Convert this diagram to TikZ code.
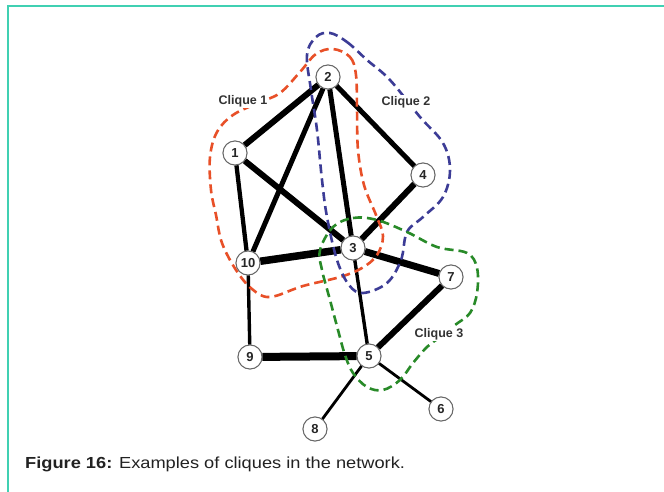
\documentclass[tikz,border=0pt]{standalone}
\usepackage{fontspec}
\setmainfont{Liberation Sans}
\usepackage{graphicx}
\definecolor{frameteal}{RGB}{64,208,178}
\definecolor{cred}{RGB}{232,80,40}
\definecolor{cblue}{RGB}{60,60,150}
\definecolor{cgreen}{RGB}{40,138,40}
\definecolor{txt}{RGB}{34,34,34}
\tikzset{
  vtx/.style={circle,draw=black!60,line width=0.9pt,fill=white,minimum size=24pt,inner sep=0pt,font=\fontsize{13}{14}\selectfont\bfseries,text=black!85},
  cliquelbl/.style={fill=white,inner sep=1pt,font=\fontsize{12.5}{14}\selectfont\bfseries,text=black!80},
  ehuge/.style={line width=7.5pt},
  ebig/.style={line width=6pt},
  emid/.style={line width=5pt},
  esmall/.style={line width=4.3pt},
  elight/.style={line width=3.4pt},
  ethin/.style={line width=2.8pt},
  hull/.style={line width=2.6pt,dash pattern=on 9pt off 5pt},
}
\begin{document}
\begin{tikzpicture}[x=1pt,y=-1pt]
\useasboundingbox (0,0) rectangle (664,492);
\fill[white] (0,0) rectangle (664,492);
\draw[frameteal,line width=2pt] (8,492) -- (8,6) -- (664,6);
% nodes
\node[vtx] (n2) at (328,77) {2};
\node[vtx] (n1) at (235,153) {1};
\node[vtx] (n4) at (423,175) {4};
\node[vtx] (n3) at (353,248) {3};
\node[vtx] (n10) at (248,263) {10};
\node[vtx] (n7) at (451,277) {7};
\node[vtx] (n9) at (250,357) {9};
\node[vtx] (n5) at (369,356) {5};
\node[vtx] (n6) at (441,409) {6};
\node[vtx] (n8) at (315,429) {8};
% edges
\draw[ebig] (n2) -- (n1);
\draw[emid] (n2) -- (n10);
\draw[emid] (n2) -- (n3);
\draw[emid] (n2) -- (n4);
\draw[esmall] (n1) -- (n10);
\draw[ebig] (n1) -- (n3);
\draw[ebig] (n4) -- (n3);
\draw[ehuge] (n10) -- (n3);
\draw[line width=7pt] (n3) -- (n7);
\draw[elight] (n3) -- (n5);
\draw[ebig] (n7) -- (n5);
\draw[elight] (n10) -- (n9);
\draw[line width=8pt] (n9) -- (n5);
\draw[ethin] (n5) -- (n8);
\draw[ethin] (n5) -- (n6);
% clique hulls
\draw[hull,cred] plot[smooth cycle,tension=0.6] coordinates {
 (333,49) (350,57) (356,75) (357,110) (358,150) (364,185) (376,215) (383,236)
 (377,255) (362,268) (340,277) (303,286) (270,297) (252,289) (236,270) (222,243)
 (216,215) (211,190) (210,157) (217,132) (233,115) (258,103) (280,93) (300,72) (316,54)};
\draw[hull,cblue] plot[smooth cycle,tension=0.6] coordinates {
 (330,33) (347,42) (367,60) (390,80) (420,117) (443,143) (450,170) (443,197)
 (423,217) (407,232) (401,260) (387,283) (363,293) (349,285) (337,260) (327,217)
 (322,180) (317,130) (311,90) (307,55) (316,37)};
\draw[hull,cgreen] plot[smooth cycle,tension=0.6] coordinates {
 (333,227) (353,218) (377,220) (407,232) (437,247) (467,253) (477,268) (477,293)
 (470,313) (455,325) (440,337) (427,347) (413,363) (400,380) (383,390) (367,387)
 (353,373) (345,355) (338,330) (330,300) (322,270) (320,250)};
% redraw nodes on top
\foreach \n/\t in {n2/2,n1/1,n4/4,n3/3,n10/10,n7/7,n9/9,n5/5,n6/6,n8/8}{
  \node[vtx] at (\n) {\t};
}
% labels
\node[cliquelbl] (l1) at (243,101) {Clique 1};
\node[cliquelbl] (l2) at (406,102) {Clique 2};
\node[cliquelbl] (l3) at (439,334) {Clique 3};
% caption
\node[anchor=base west,inner sep=0pt,text=txt,font=\fontsize{16}{19}\selectfont] (cap) at (25,468)
  {\scalebox{1.14}[1]{\textbf{Figure 16:} Examples of cliques in the network.}};
\end{tikzpicture}
\end{document}
